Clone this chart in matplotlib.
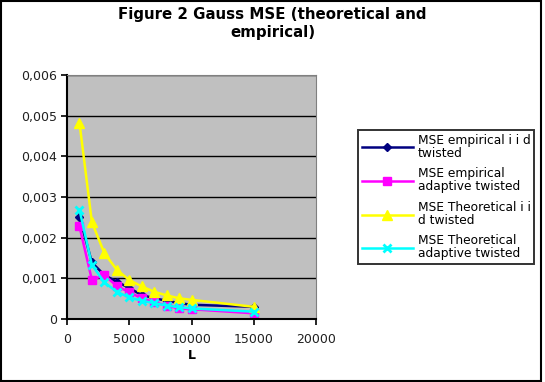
import matplotlib
matplotlib.use("Agg")
import matplotlib.pyplot as plt
from matplotlib.ticker import FuncFormatter, MultipleLocator
from matplotlib.patches import Rectangle

L = [1000, 2000, 3000, 4000, 5000, 6000, 7000, 8000, 9000, 10000, 15000]
mse_emp_iid = [0.00251, 0.00139, 0.00108, 0.00092, 0.00076, 0.00059, 0.00051, 0.00045, 0.00039, 0.00035, 0.00030]
mse_emp_adapt = [0.00228, 0.00096, 0.00108, 0.00081, 0.00066, 0.00051, 0.00041, 0.00033, 0.00026, 0.00024, 0.00014]
mse_theo_iid = [0.00483, 0.00238, 0.00162, 0.00121, 0.00096, 0.00080, 0.00067, 0.00058, 0.00051, 0.00047, 0.00030]
mse_theo_adapt = [0.00269, 0.00133, 0.00090, 0.00067, 0.00053, 0.00045, 0.00039, 0.00033, 0.00029, 0.00026, 0.00018]

labels = ["MSE empirical i i d\ntwisted",
          "MSE empirical\nadaptive twisted",
          "MSE Theoretical i i\nd twisted",
          "MSE Theoretical\nadaptive twisted"]
title = "Figure 2 Gauss MSE (theoretical and\nempirical)"
xlabel = "L"

plt.rcParams['font.family'] = ['DejaVu Sans']

fig = plt.figure(figsize=(5.45, 3.82), dpi=100)
ax = fig.add_axes([67/545, 1-319/382, (316-67)/545, (319-75)/382])
ax.set_facecolor("#C0C0C0")

ax.plot(L, mse_emp_iid, color="#000080", marker="D", markersize=4.5, lw=1.8, label=labels[0])
ax.plot(L, mse_emp_adapt, color="#FF00FF", marker="s", markersize=6, lw=1.8, label=labels[1])
ax.plot(L, mse_theo_iid, color="#FFFF00", marker="^", markersize=6.5, lw=1.8, label=labels[2])
ax.plot(L, mse_theo_adapt, color="#00FFFF", marker="x", markersize=6, mew=2, lw=1.8, label=labels[3])

ax.set_xlim(0, 20000)
ax.set_ylim(0, 0.006)
ax.xaxis.set_major_locator(MultipleLocator(5000))
ax.yaxis.set_major_locator(MultipleLocator(0.001))
ax.yaxis.set_major_formatter(FuncFormatter(lambda v, p: "0" if abs(v) < 1e-12 else ("%.3f" % v).replace(".", ",")))
ax.grid(axis="y", color="black", lw=1)
ax.set_axisbelow(True)
for s in ["top", "right"]:
    ax.spines[s].set_color("#808080")
for s in ["left", "bottom"]:
    ax.spines[s].set_color("black")
    ax.spines[s].set_linewidth(1.5)
ax.tick_params(axis="both", labelsize=9, length=4, width=1.2, direction="out", color="black", labelcolor="#202020")
ax.tick_params(axis="x", pad=6)
ax.tick_params(axis="y", pad=3)
ax.set_xlabel(xlabel, fontsize=9, fontweight="bold", labelpad=2)

fig.text(0.5, 0.982, title, ha="center", va="top", fontsize=10.8, fontweight="bold", linespacing=1.25)

leg = fig.legend(loc="upper left", bbox_to_anchor=(358/545, 1-130/382), fontsize=8.8,
                 frameon=True, fancybox=False, edgecolor="black", handlelength=4.2,
                 borderpad=0.3, labelspacing=0.62, handletextpad=0.4, borderaxespad=0)
leg.get_frame().set_linewidth(1.4)
for t in leg.get_texts():
    t.set_linespacing(1.0)

fig.patches.append(Rectangle((0.002, 0.003), 0.99, 0.994, transform=fig.transFigure,
                             fill=False, edgecolor="black", lw=1.5))

fig.savefig("out.png", dpi=100)
